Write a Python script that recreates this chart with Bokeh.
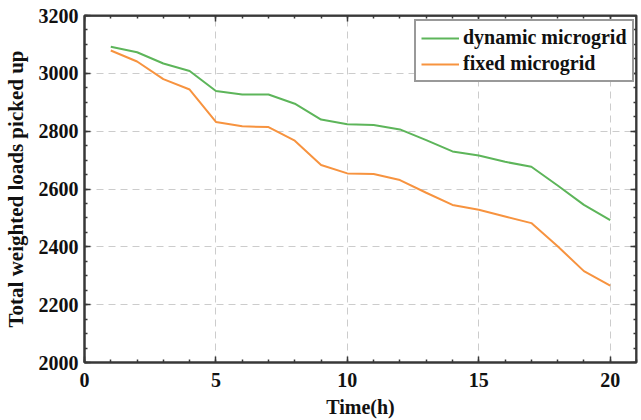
from bokeh.plotting import figure
from bokeh.models import LinearAxis, Range1d, Legend, LegendItem, FixedTicker
from bokeh.embed import file_html
from bokeh.resources import INLINE

hours = list(range(1, 21))
dynamic = [3092, 3073, 3034, 3008, 2939, 2927, 2927, 2895, 2840, 2824,
           2821, 2806, 2769, 2730, 2716, 2694, 2677, 2612, 2545, 2492]
fixed = [3079, 3041, 2980, 2944, 2832, 2817, 2814, 2767, 2683, 2654,
         2652, 2631, 2587, 2545, 2528, 2505, 2482, 2402, 2316, 2266]
x_ticks = [0, 5, 10, 15, 20]
x_minor = list(range(0, 22))
y_ticks = [2000, 2200, 2400, 2600, 2800, 3000, 3200]
y_minor = list(range(2000, 3201, 50))

FONT = "Liberation Serif"
GREEN = "#5db55a"
ORANGE = "#f7933f"
AX = "#383838"

p = figure(width=641, height=420, output_backend="svg", toolbar_location=None,
           x_range=Range1d(0, 21), y_range=Range1d(2000, 3200),
           min_border_left=83, min_border_top=15, min_border_bottom=57, min_border_right=5)
p.outline_line_color = AX
p.outline_line_width = 2

g = p.line(hours, dynamic, line_color=GREEN, line_width=2)
o = p.line(hours, fixed, line_color=ORANGE, line_width=2)


def style_ticks(ax):
    ax.axis_line_color = AX
    ax.axis_line_width = 2
    ax.major_tick_in = 6
    ax.major_tick_out = 0
    ax.minor_tick_in = 3
    ax.minor_tick_out = 0
    ax.major_tick_line_color = AX
    ax.minor_tick_line_color = AX
    ax.major_tick_line_width = 1.5
    ax.minor_tick_line_width = 1.5


for ax in (p.xaxis[0], p.yaxis[0]):
    style_ticks(ax)
    ax.major_label_text_font = FONT
    ax.major_label_text_font_style = "bold"
    ax.major_label_text_font_size = "20px"
    ax.major_label_text_color = "#111111"
    ax.axis_label_text_font = FONT
    ax.axis_label_text_font_style = "bold"
    ax.axis_label_text_color = "#111111"

p.xaxis[0].ticker = FixedTicker(ticks=x_ticks, minor_ticks=x_minor)
p.yaxis[0].ticker = FixedTicker(ticks=y_ticks, minor_ticks=y_minor)
p.xaxis[0].axis_label = "Time(h)"
p.yaxis[0].axis_label = "Total weighted loads picked up"
p.xaxis[0].axis_label_text_font_size = "20px"
p.yaxis[0].axis_label_text_font_size = "21px"
p.xaxis[0].axis_label_standoff = 6
p.yaxis[0].axis_label_standoff = 8
p.xaxis[0].major_label_standoff = 10
p.yaxis[0].major_label_standoff = 6

# tick marks on the right and top frame edges (no labels)
for loc, ticks, minors, fixed_loc in (("right", y_ticks, y_minor, 21),
                                      ("above", x_ticks, x_minor, 3200)):
    for tick_len, tks in ((6, ticks), (3, minors)):
        ax = LinearAxis(ticker=FixedTicker(ticks=[], minor_ticks=tks),
                        fixed_location=fixed_loc)
        style_ticks(ax)
        ax.minor_tick_in = tick_len
        ax.major_label_standoff = 0
        ax.axis_label_standoff = 0
        p.add_layout(ax, loc)

p.xgrid.ticker = FixedTicker(ticks=x_ticks)
p.ygrid.ticker = FixedTicker(ticks=y_ticks)
for gr in (p.xgrid[0], p.ygrid[0]):
    gr.grid_line_color = "#cccccc"
    gr.grid_line_dash = "7 5"
    gr.grid_line_width = 1

legend = Legend(items=[LegendItem(label="dynamic microgrid", renderers=[g]),
                       LegendItem(label="fixed microgrid", renderers=[o])],
                location=(330, 280))
legend.label_text_font = FONT
legend.label_text_font_style = "bold"
legend.label_text_font_size = "20px"
legend.label_text_color = "#111111"
legend.border_line_color = "#333333"
legend.border_line_width = 2
legend.glyph_width = 38
legend.glyph_height = 22
legend.label_height = 22
legend.label_standoff = 4
legend.padding = 5
legend.spacing = 3
legend.margin = 0
legend.background_fill_alpha = 1
p.add_layout(legend, "center")

open("out.html", "w").write(file_html(p, INLINE))
